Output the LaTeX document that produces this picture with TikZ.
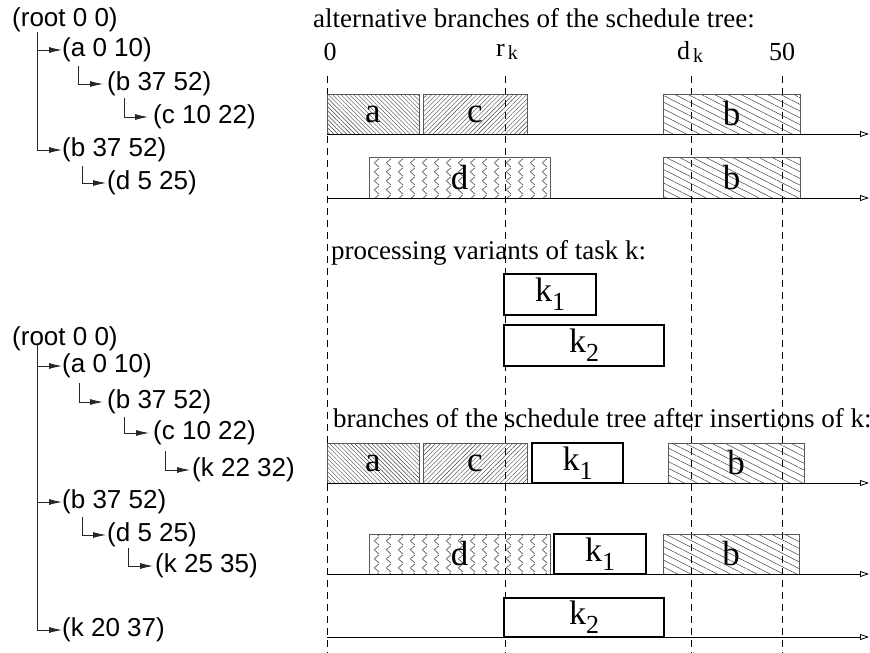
\documentclass[tikz,border=0pt]{standalone}
\usepackage{fontspec}
\setmainfont{Liberation Serif}
\newfontfamily\treefont{Liberation Sans}
\usetikzlibrary{arrows.meta,patterns,patterns.meta}

\pgfdeclarepatternformonly{zigzagv}{\pgfpointorigin}{\pgfpoint{12pt}{9pt}}{\pgfpoint{12pt}{9pt}}{%
  \pgfsetlinewidth{0.6pt}%
  \pgfpathmoveto{\pgfpoint{7.5pt}{0pt}}%
  \pgfpathlineto{\pgfpoint{2.5pt}{4.5pt}}%
  \pgfpathlineto{\pgfpoint{7.5pt}{9pt}}%
  \pgfusepath{stroke}}

\newcommand\ksubx[1]{k\raisebox{-9pt}{\fontsize{26}{26}\selectfont #1}}
\newcommand\ticksub[2]{#1\hspace{3pt}\raisebox{-3pt}{\fontsize{20}{20}\selectfont #2}}

\tikzset{
  x=1pt, y=-1pt,
  tree/.style={draw=black!85, line width=0.8pt, -{Latex[length=13pt,width=6pt]}},
  tnode/.style={font=\treefont\fontsize{26}{28}\selectfont, inner sep=0pt, anchor=west},
  box/.style={draw=black!65, line width=0.8pt, inner sep=0pt, font=\fontsize{35}{36}\selectfont},
  hatchA/.style={box, pattern={Lines[angle=-45,distance=3pt,line width=0.4pt]}, pattern color=black!75},
  hatchC/.style={box, pattern={Lines[angle=45,distance=3.2pt,line width=0.4pt]}, pattern color=black!75},
  hatchB/.style={box, pattern={Lines[angle=-27,distance=6pt,line width=0.45pt]}, pattern color=black!80},
  zig/.style={box, pattern=zigzagv, pattern color=black!75},
  kbox/.style={draw=black, line width=2.5pt, fill=white, inner sep=0pt, font=\fontsize{34}{36}\selectfont},
  axis/.style={draw=black, line width=0.8pt, -{Triangle[open,length=9pt,width=6pt]}},
  vdash/.style={draw=black, line width=0.8pt, dash pattern=on 7pt off 5pt},
  ttl/.style={font=\fontsize{27}{30}\selectfont, anchor=west, inner sep=0pt},
  tick/.style={font=\fontsize{26}{28}\selectfont, inner sep=0pt}
}

\begin{document}
\begin{tikzpicture}
\useasboundingbox (0,0) rectangle (870,653);

% ---------------- upper tree ----------------
\node[tnode] (r1) at (12,20) {(root 0 0)};
\node[tnode] (a1) at (62,50) {(a 0 10)};
\node[tnode] (b1) at (107,84) {(b 37 52)};
\node[tnode] (c1) at (153,117) {(c 10 22)};
\node[tnode] (b2) at (62,150) {(b 37 52)};
\node[tnode] (d1) at (107,183) {(d 5 25)};

\draw[tree] ([xshift=25pt]r1.south west) |- (a1.west);
\draw[tree] ([xshift=25pt]r1.south west) |- (b2.west);
\draw[tree] ([xshift=16pt,yshift=-4pt]a1.south west) |- ([xshift=-4pt]b1.west);
\draw[tree] ([xshift=17pt,yshift=-2pt]b1.south west) |- ([xshift=-5pt]c1.west);
\draw[tree] ([xshift=20pt,yshift=-4pt]b2.south west) |- ([xshift=-1pt]d1.west);

% ---------------- lower tree ----------------
\node[tnode] (r2) at (12,339) {(root 0 0)};
\node[tnode] (a2) at (62,366) {(a 0 10)};
\node[tnode] (b3) at (107,402) {(b 37 52)};
\node[tnode] (c2) at (153,433) {(c 10 22)};
\node[tnode] (k4) at (192,470) {(k 22 32)};
\node[tnode] (b4) at (62,502) {(b 37 52)};
\node[tnode] (d2) at (107,535) {(d 5 25)};
\node[tnode] (k5) at (155,566) {(k 25 35)};
\node[tnode] (k6) at (62,630) {(k 20 37)};

\draw[tree] ([xshift=25pt,yshift=-4pt]r2.west) |- (a2.west);
\draw[tree] ([xshift=25pt,yshift=-4pt]r2.west) |- (b4.west);
\draw[tree] ([xshift=25pt,yshift=-4pt]r2.west) |- (k6.west);
\draw[tree] ([xshift=17pt,yshift=-5pt]a2.south west) |- ([xshift=-4pt]b3.west);
\draw[tree] ([xshift=17pt,yshift=-3pt]b3.south west) |- ([xshift=-4pt]c2.west);
\draw[tree] ([xshift=12pt,yshift=-6pt]c2.south west) |- ([xshift=-2pt]k4.west);
\draw[tree] ([xshift=20pt,yshift=-3pt]b4.south west) |- ([xshift=-1pt]d2.west);
\draw[tree] ([xshift=21pt,yshift=-1pt]d2.south west) |- ([xshift=-2pt]k5.west);

% ---------------- titles and ticks ----------------
\node[ttl] (t1) at (313,18) {alternative branches of the schedule tree:};
\node[ttl] (t2) at (331,253) {processing variants of task k:};
\node[ttl] (t3) at (333,418) {branches of the schedule tree after insertions of k:};

\node[tick] (l0) at (330,52) {0};
\node[tick] (lr) at (507,52) {\ticksub{r}{k}};
\node[tick] (ld) at (690,52) {\ticksub{d}{k}};
\node[tick] (l50) at (782,52) {50};

% dashed reference lines
\foreach \n/\x in {v0/327, vr/505, vd/691, v5/782} {
  \coordinate (\n t) at (\x,76);
  \coordinate (\n b) at (\x,653);
  \draw[vdash] (\n t) -- (\n b);
}

% ---------------- row 1 ----------------
\node[hatchA, minimum width=92pt, minimum height=40pt] (ra1) at (373,114) {a};
\node[hatchC, minimum width=104pt, minimum height=40pt] (rc1) at (475,114) {c};
\node[hatchB, minimum width=137pt, minimum height=40pt] (rb1) at (731.5,114) {b};
\coordinate (ax1s) at (327,134); \coordinate (ax1e) at (869,134);
\draw[axis] (ax1s) -- (ax1e);

% ---------------- row 2 ----------------
\node[zig, minimum width=181pt, minimum height=41pt] (rd2) at (459.5,177.5) {d};
\node[hatchB, minimum width=137pt, minimum height=41pt] (rb2) at (731.5,177.5) {b};
\coordinate (ax2s) at (327,198); \coordinate (ax2e) at (869,198);
\draw[axis] (ax2s) -- (ax2e);

% ---------------- variants ----------------
\node[kbox, minimum width=92pt, minimum height=41pt] (kv1) at (550,294.5) {\ksubx{1}};
\node[kbox, minimum width=160pt, minimum height=41pt] (kv2) at (584,345.5) {\ksubx{2}};

% ---------------- row 3 ----------------
\node[hatchA, minimum width=92pt, minimum height=40pt] (ra3) at (373,463) {a};
\node[hatchC, minimum width=104pt, minimum height=40pt] (rc3) at (475,463) {c};
\node[kbox, minimum width=91pt, minimum height=40pt] (rk3) at (577.5,463) {\ksubx{1}};
\node[hatchB, minimum width=136pt, minimum height=40pt] (rb3) at (736,463) {b};
\coordinate (ax3s) at (327,483); \coordinate (ax3e) at (869,483);
\draw[axis] (ax3s) -- (ax3e);

% ---------------- row 4 ----------------
\node[zig, minimum width=181pt, minimum height=40pt] (rd4) at (459.5,554) {d};
\node[kbox, minimum width=92pt, minimum height=40pt] (rk4) at (600,554) {\ksubx{1}};
\node[hatchB, minimum width=136pt, minimum height=40pt] (rb4) at (731,554) {b};
\coordinate (ax4s) at (327,574); \coordinate (ax4e) at (869,574);
\draw[axis] (ax4s) -- (ax4e);

% ---------------- row 5 ----------------
\node[kbox, minimum width=160pt, minimum height=39pt] (rk5) at (584,617.5) {\ksubx{2}};
\coordinate (ax5s) at (327,637); \coordinate (ax5e) at (869,637);
\draw[axis] (ax5s) -- (ax5e);
\end{tikzpicture}
\end{document}
